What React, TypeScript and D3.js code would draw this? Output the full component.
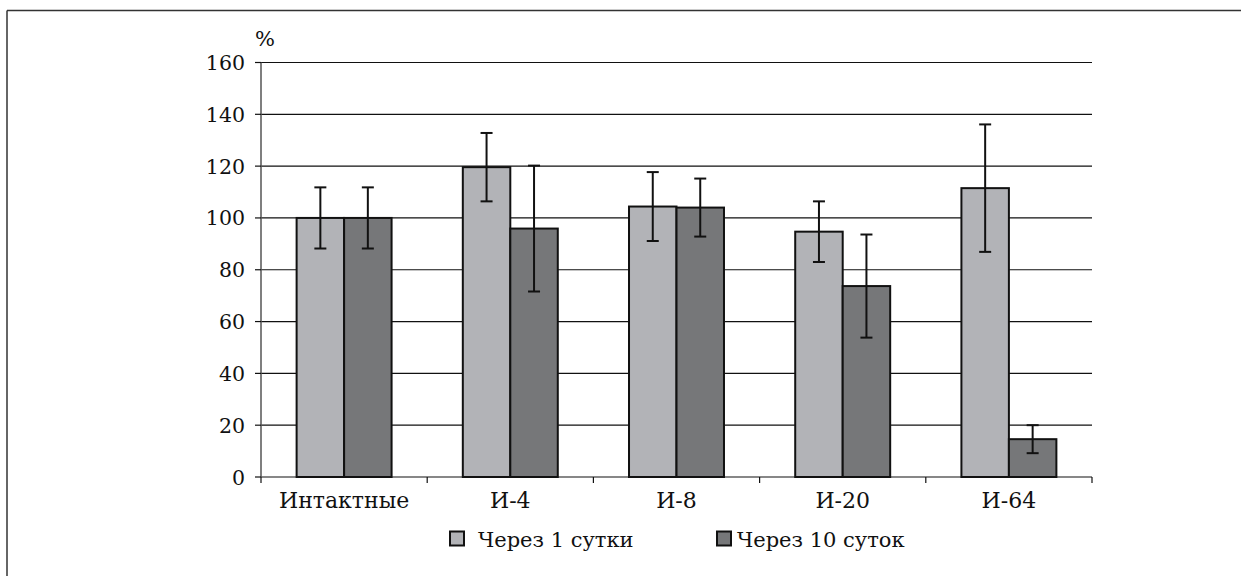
import React from "react";
import * as d3 from "d3";

const categories = ["Интактные", "И-4", "И-8", "И-20", "И-64"];
const seriesNames = ["Через 1 сутки", "Через 10 суток"];
const day1Values = [100, 119.6, 104.4, 94.7, 111.5];
const day1Errors = [11.8, 13.2, 13.3, 11.7, 24.6];
const day10Values = [100, 95.9, 104, 73.7, 14.6];
const day10Errors = [11.8, 24.3, 11.2, 19.9, 5.4];
const yTicks = [0, 20, 40, 60, 80, 100, 120, 140, 160];
const colors = ["#b2b3b7", "#767779"];

const W = 1241;
const H = 576;
const left = 261;
const right = 1092;
const top = 62.5;
const bottom = 477;
const font = "'DejaVu Serif', serif";

export default function App() {
  const y = d3.scaleLinear().domain([0, 160]).range([bottom, top]);
  const x = d3.scaleBand<string>().domain(categories).range([left, right]).padding(0);
  const inner = d3
    .scaleBand<string>()
    .domain(seriesNames)
    .range([0, x.bandwidth()])
    .paddingInner(0)
    .paddingOuter(0.75);
  const series = [
    { name: seriesNames[0], values: day1Values, errors: day1Errors, color: colors[0] },
    { name: seriesNames[1], values: day10Values, errors: day10Errors, color: colors[1] },
  ];
  const boundaries = [...categories.map((c) => x(c) as number), right];

  return (
    <svg
      width={W}
      height={H}
      style={{ position: "absolute", left: 0, top: 0, display: "block", background: "#fff" }}
    >
      <rect x={0} y={0} width={W} height={H} fill="#fff" />
      {/* frame */}
      <line x1={7} y1={10.5} x2={W} y2={10.5} stroke="#333" strokeWidth={1.5} />
      <line x1={7} y1={10.5} x2={7} y2={H} stroke="#333" strokeWidth={1.5} />

      {/* gridlines */}
      {yTicks.map((t) => (
        <line key={"g" + t} x1={left} x2={right} y1={y(t)} y2={y(t)} stroke="#111" strokeWidth={1.2} />
      ))}
      {/* y axis */}
      <line x1={left} x2={left} y1={top} y2={bottom} stroke="#555" strokeWidth={1.5} />
      {yTicks.map((t) => (
        <g key={"yt" + t}>
          <line x1={left - 6} x2={left} y1={y(t)} y2={y(t)} stroke="#111" strokeWidth={1.2} />
          <text
            x={245}
            y={y(t) + 7.5}
            textAnchor="end"
            fontFamily={font}
            fontSize={20.5}
            fill="#111"
          >
            {t}
          </text>
        </g>
      ))}
      <text x={265} y={46} textAnchor="middle" fontFamily={font} fontSize={21} fill="#111">
        %
      </text>

      {/* x ticks */}
      {boundaries.map((b, i) => (
        <line key={"xt" + i} x1={b} x2={b} y1={bottom} y2={bottom + 6} stroke="#111" strokeWidth={1.2} />
      ))}
      {categories.map((c) => (
        <text
          key={"xl" + c}
          x={(x(c) as number) + x.bandwidth() / 2}
          y={508}
          textAnchor="middle"
          fontFamily={font}
          fontSize={22}
          fill="#111"
        >
          {c}
        </text>
      ))}

      {/* bars */}
      {series.map((s) =>
        categories.map((c, i) => {
          const bx = (x(c) as number) + (inner(s.name) as number);
          const bw = inner.bandwidth();
          return (
            <rect
              key={s.name + c}
              x={bx}
              y={y(s.values[i])}
              width={bw}
              height={bottom - y(s.values[i])}
              fill={s.color}
              stroke="#111"
              strokeWidth={2}
            />
          );
        })
      )}
      {/* error bars */}
      {series.map((s) =>
        categories.map((c, i) => {
          const cx = (x(c) as number) + (inner(s.name) as number) + inner.bandwidth() / 2;
          const y1 = y(s.values[i] + s.errors[i]);
          const y2 = y(s.values[i] - s.errors[i]);
          return (
            <g key={"e" + s.name + c} stroke="#111" strokeWidth={2}>
              <line x1={cx} x2={cx} y1={y1} y2={y2} />
              <line x1={cx - 6} x2={cx + 6} y1={y1} y2={y1} />
              <line x1={cx - 6} x2={cx + 6} y1={y2} y2={y2} />
            </g>
          );
        })
      )}

      {/* legend */}
      {[
        { sx: 450, tx: 478 },
        { sx: 717, tx: 737 },
      ].map((p, i) => (
        <g key={"lg" + i}>
          <rect x={p.sx} y={531.5} width={14} height={14} fill={colors[i]} stroke="#111" strokeWidth={2} />
          <text x={p.tx} y={547} fontFamily={font} fontSize={21} fill="#111">
            {seriesNames[i]}
          </text>
        </g>
      ))}
    </svg>
  );
}
